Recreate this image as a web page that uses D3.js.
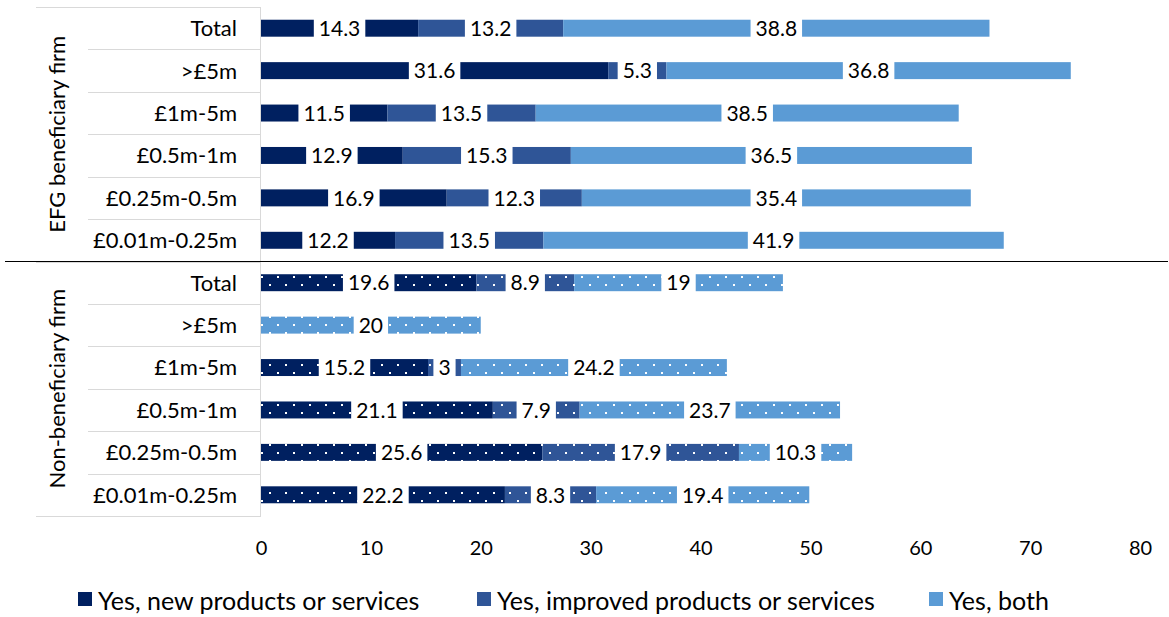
<!DOCTYPE html>
<html>
<head>
<meta charset="utf-8">
<script src="https://cdn.jsdelivr.net/npm/d3@7"></script>
<style>
  html, body { margin: 0; padding: 0; background: #fff; }
  svg { display: block; font-family: Lato, "Open Sans", sans-serif; }
</style>
</head>
<body>
<svg id="chart" width="1169" height="617"></svg>
<script>
// Firm groups and turnover bands (top to bottom within each group)
const groups = ["EFG beneficiary firm", "Non-beneficiary firm"];
const bands = ["Total", ">£5m", "£1m-5m", "£0.5m-1m", "£0.25m-0.5m", "£0.01m-0.25m"];
const seriesNames = ["Yes, new products or services", "Yes, improved products or services", "Yes, both"];
const seriesColors = ["#002060", "#2F5597", "#5B9BD5"];

// Share of firms (%) by band, one array per group and series
const efgNew      = [14.3, 31.6, 11.5, 12.9, 16.9, 12.2];
const efgImproved = [13.2, 5.3, 13.5, 15.3, 12.3, 13.5];
const efgBoth     = [38.8, 36.8, 38.5, 36.5, 35.4, 41.9];
const nonNew      = [19.6, 0, 15.2, 21.1, 25.6, 22.2];
const nonImproved = [8.9, 0, 3, 7.9, 17.9, 8.3];
const nonBoth     = [19, 20, 24.2, 23.7, 10.3, 19.4];

const xTicks = [0, 10, 20, 30, 40, 50, 60, 70, 80];

const groupSeries = [
  [efgNew, efgImproved, efgBoth],
  [nonNew, nonImproved, nonBoth]
];

// Flatten into rows
const rows = [];
groups.forEach((g, gi) => {
  bands.forEach((b, bi) => {
    const vals = groupSeries[gi].map(s => s[bi]);
    rows.push({ key: gi + "|" + b, group: g, gi, band: b, vals });
  });
});

const svg = d3.select("#chart");
const plotLeft = 261, plotRight = 1140, plotTop = 7, plotBottom = 516;

const x = d3.scaleLinear().domain([0, 80]).range([plotLeft, plotRight]);
const y = d3.scaleBand().domain(rows.map(r => r.key)).range([plotTop, plotBottom]).paddingInner(0.6).paddingOuter(0.3);
const step = y.step();

// White dotted pattern used for non-beneficiary bars
const defs = svg.append("defs");
seriesColors.forEach((c, i) => {
  const p = defs.append("pattern")
    .attr("id", "dots" + i)
    .attr("patternUnits", "userSpaceOnUse")
    .attr("width", 16).attr("height", 16)
    .attr("x", plotLeft).attr("y", 4);
  p.append("rect").attr("width", 16).attr("height", 16).attr("fill", c);
  p.append("rect").attr("x", 0).attr("y", 0).attr("width", 2).attr("height", 2).attr("fill", "#fff");
  p.append("rect").attr("x", 8).attr("y", 8).attr("width", 2).attr("height", 2).attr("fill", "#fff");
});

// Category axis grid (label column)
const grid = svg.append("g").attr("stroke", "#d9d9d9").attr("stroke-width", 1);
rows.forEach((r, i) => {
  const top = plotTop + i * step;
  const bi = i % bands.length;
  grid.append("line")
    .attr("x1", bi === 0 ? 36 : 88).attr("x2", plotLeft - 1)
    .attr("y1", Math.round(top) + 0.5).attr("y2", Math.round(top) + 0.5);
});
grid.append("line").attr("x1", 36).attr("x2", plotLeft - 1)
  .attr("y1", plotBottom + 0.5).attr("y2", plotBottom + 0.5);
grid.append("line").attr("x1", plotLeft - 0.5).attr("x2", plotLeft - 0.5)
  .attr("y1", plotTop).attr("y2", plotBottom + 1);

// Band labels
svg.append("g").selectAll("text").data(rows).join("text")
  .attr("x", 237)
  .attr("y", r => y(r.key) + y.bandwidth() / 2)
  .attr("dy", "0.36em")
  .attr("text-anchor", "end")
  .attr("font-size", 22)
  .attr("fill", "#000")
  .text(r => r.band);

// Group labels (rotated)
groups.forEach((g, gi) => {
  const top = plotTop + gi * bands.length * step;
  const cy = top + bands.length * step / 2;
  svg.append("text")
    .attr("transform", `translate(57,${cy}) rotate(-90)`)
    .attr("dy", "0.36em")
    .attr("text-anchor", "middle")
    .attr("font-size", 22)
    .attr("fill", "#000")
    .text(g);
});

// Stacked segments
const segs = [];
rows.forEach(r => {
  let acc = 0;
  r.vals.forEach((v, si) => {
    segs.push({ row: r, si, v, x0: acc, x1: acc + v });
    acc += v;
  });
});

const barG = svg.append("g");
barG.selectAll("rect").data(segs.filter(s => s.v > 0)).join("rect")
  .attr("x", s => x(s.x0))
  .attr("y", s => y(s.row.key))
  .attr("width", s => x(s.x1) - x(s.x0))
  .attr("height", y.bandwidth())
  .attr("fill", s => s.row.gi === 1 ? `url(#dots${s.si})` : seriesColors[s.si]);

// Value labels on white boxes, centred in each segment
const labG = svg.append("g");
segs.filter(s => s.v > 0).forEach(s => {
  const cx = x((s.x0 + s.x1) / 2);
  const cy = y(s.row.key) + y.bandwidth() / 2;
  const g = labG.append("g");
  const t = g.append("text")
    .attr("x", cx).attr("y", cy).attr("dy", "0.37em")
    .attr("text-anchor", "middle")
    .attr("font-size", 21)
    .attr("fill", "#000")
    .text(d3.format("~g")(s.v));
  const w = t.node().getComputedTextLength();
  g.insert("rect", "text")
    .attr("x", cx - w / 2 - 5).attr("y", y(s.row.key) - 1)
    .attr("width", w + 10).attr("height", y.bandwidth() + 2)
    .attr("fill", "#fff");
});

// Group separator
svg.append("line")
  .attr("x1", 5).attr("x2", 1168)
  .attr("y1", plotTop + bands.length * step).attr("y2", plotTop + bands.length * step)
  .attr("stroke", "#000").attr("stroke-width", 1.2);

// Value axis
const axis = svg.append("g")
  .attr("transform", `translate(0,${plotBottom})`)
  .call(d3.axisBottom(x).tickValues(xTicks).tickSize(0).tickPadding(25));
axis.select(".domain").remove();
axis.selectAll("text")
  .attr("font-size", 20)
  .attr("font-family", "Lato, 'Open Sans', sans-serif")
  .attr("fill", "#000");

// Legend
const legX = [78, 477, 929];
const leg = svg.append("g");
seriesNames.forEach((n, i) => {
  leg.append("rect").attr("x", legX[i]).attr("y", 592).attr("width", 14).attr("height", 14).attr("fill", seriesColors[i]);
  leg.append("text").attr("x", legX[i] + 20).attr("y", 610)
    .attr("font-size", 25).attr("fill", "#000").text(n);
});
</script>
</body>
</html>
